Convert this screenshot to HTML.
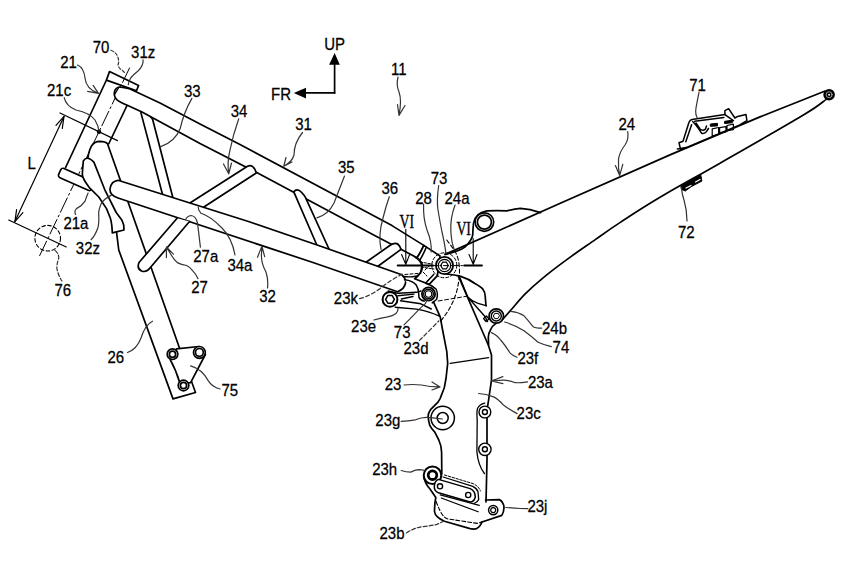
<!DOCTYPE html>
<html><head><meta charset="utf-8">
<style>
html,body{margin:0;padding:0;background:#fff;}
svg{display:block;}
text{font-family:"Liberation Sans",sans-serif;font-size:15px;fill:#000;stroke:#000;stroke-width:0.25px;}
</style></head>
<body>
<svg width="852" height="568" viewBox="0 0 852 568">
<g fill="none" stroke="#000" stroke-width="1.7" stroke-linejoin="round" stroke-linecap="round">
<!-- ===== HEAD PIPE ===== -->
<line x1="106" y1="81" x2="65.6" y2="167.5"/>
<line x1="133" y1="93" x2="108.75" y2="143.75"/>
<path fill="#fff" d="M109.5,71.6 L138.6,85.4 L136.5,90.7 L106.4,80.1 Z"/>
<!-- center dash-dot line -->
<path d="M129.5,68 L38.75,257.5" stroke-width="1" stroke-dasharray="16,3,2,3"/>
<!-- dimension L -->
<line x1="60" y1="113" x2="117.5" y2="140.6" stroke-width="1.2"/>
<line x1="8.75" y1="220" x2="66.25" y2="247" stroke-width="1.2"/>
<line x1="64" y1="116.4" x2="14.9" y2="221.6" stroke-width="1.2"/>
<path d="M56.0,125.3 L64.0,116.4 L62.3,128.3 M22.9,212.7 L14.9,221.6 L16.6,209.7" stroke-width="1.2"/>
<circle cx="99" cy="131.75" r="2.2" fill="#000" stroke="none"/>
<circle cx="47.7" cy="238.2" r="12.8" stroke-width="1.1" stroke-dasharray="3.5,2.5"/>
<!-- ===== DOWN TUBE 26 ===== -->
<path fill="#fff" d="M118.75,250 L116,228 L110,213 L97,190 L87,165 Q88,152 91.5,146 Q94.5,141.3 99.7,141.3 Q105.5,141.5 107.5,143.7 L179.3,347.5 L195.5,392.5 L173,398.9 Z"/>
<!-- lower cap of head pipe -->
<rect transform="translate(61.7,167.5) rotate(24)" x="0" y="0" width="36" height="10" rx="2.5" fill="#fff"/>
<!-- bone tube 32z -->
<path fill="#fff" d="M83.3,161 Q87,155 93.9,162.1 L104.6,189.3 L116.2,212.5 L122,220.3 Q124.5,225 124,230 L112.3,232.9 Q112,224 110.4,218.3 L106.5,208.6 L98.8,197 L89.1,187.3 Q82,178 82.3,173.8 Z"/>
<!-- bracket 75 -->
<path fill="#fff" d="M176.5,348.9 L199,346.5 L205.4,354.5 L190.6,382.7 L180,383.4 Q176,370 170.1,359.4 Z" />
<circle cx="172.5" cy="354.2" r="5.3" fill="#fff"/><circle cx="172.5" cy="354.2" r="3.1"/>
<circle cx="199.4" cy="352.4" r="5.9" fill="#fff"/><circle cx="199.4" cy="352.4" r="3.9"/>
<circle cx="183.5" cy="385.5" r="5.3" fill="#fff"/><circle cx="183.5" cy="385.5" r="3.1"/>
<!-- ===== STRUT 33 (behind top tube) ===== -->
<path fill="#fff" d="M164,200 L140.9,112.6 Q146,109.5 152.6,119.3 L174,202"/>
<!-- ===== TOP TUBE 31 ===== -->
<path fill="#fff" d="M119,87 Q124,87.5 130.1,88.9 L160,103 L200,124.1 L240,144.5 L392,225.6 L423.8,245.4 Q421,252 417,257.7 L373.7,235 L256.7,172.6 L200,143.5 L142,112 L132.2,107.5 Q124,104 121.7,102.8 Q116,100 115,97 Q113.5,93.5 115.3,89.6 Q117,87.5 119,87 Z"/>
<path fill="#fff" d="M423.8,245.4 L440,256 L437.4,275.6 L429.4,284.2 L425.7,283 L414.6,278.7 Q419.5,275.6 422,269.4 Q422.5,265 422,263.3 Q420,259.5 417,257.7 Q421,252 423.8,245.4 Z"/>
<path d="M426.3,247.3 Q423.5,254 420.1,259.6" stroke-width="1.6"/>
<path d="M420,262 L432,264 M421,267 L434,269 M423,272 L427,276 M425,270 L429,266 M427,281 L432,276" stroke-width="1" stroke-dasharray="2.5,1.5"/>
<path d="M114.3,94.9 L118.5,88" stroke-width="1.3"/>
<!-- strut 34 -->
<path fill="#fff" d="M186,205.5 L247.5,166.25 Q253.5,163.5 256.25,173 L200,209.5"/>
<!-- strut 35 -->
<path fill="#fff" d="M319,250 L293.8,191.8 Q298,186 305.2,196.9 L331.5,254.5"/>
<!-- strut 36 -->
<path fill="#fff" d="M362.5,264.7 L390.2,245.2 Q398,240 401,249.4 L374.5,268.8"/>
<!-- ===== TUBE 32 ===== -->
<path fill="#fff" d="M118,180.3 L250,222 L320,246 L401.8,274.8 Q406.5,279 405.5,283 Q404.5,289 397.6,291.7 L313,262.5 L118,198 Q109.5,195 110,189 Q111,181 118,180.3 Z"/>
<!-- tube 27 -->
<path fill="#fff" d="M177.1,218.2 L139,262.5 Q136.5,268.5 141.5,271 Q146.5,273 150.8,267 L189.5,221.5"/>
<!-- ===== REAR FRAME 24 ===== -->
<path d="M445.1,254.4 L562,202.5 L670,154.9 L760,116.9 L824.5,91.2"/>
<path d="M825.9,99.6 C822.1,102.2 821.0,104.4 803.4,115.0 C785.8,125.6 743.9,149.5 720.0,163.2 C696.1,176.9 676.7,187.4 660.0,197.3 C643.3,207.2 630.6,215.6 619.9,222.6 C609.2,229.6 604.0,233.5 595.6,239.4 C587.2,245.3 578.0,251.4 569.2,257.9 C560.4,264.3 550.1,272.1 542.8,278.1 C535.5,284.1 530.5,288.6 525.2,293.9 C519.9,299.2 514.9,305.5 511.1,309.8 C507.3,314.1 504.0,317.9 502.6,319.5"/>
<path d="M496.3,323.1 Q492,326 490.7,329.5 Q488.5,333 488.3,337.4 L488.6,345"/>
<circle cx="829.1" cy="94.7" r="5.8" fill="#000" stroke="none"/><circle cx="829.1" cy="94.7" r="3" fill="none" stroke="#fff" stroke-width="0.6"/><circle cx="829.1" cy="94.7" r="1" fill="#fff" stroke="none"/>
<!-- plate with hole -->
<path d="M445.1,254.4 Q460,251 465.2,246.9 Q472,240 472.7,235.2 Q473,228 473.5,223.4 Q475,213 486.9,210.9 Q497,210.5 507,210.9 Q515,209 520.3,208.4 Q530,209 540.4,212.6"/>
<circle cx="484.4" cy="222.1" r="9.3"/><circle cx="484.4" cy="222.1" r="7"/>
<!-- 71 clip -->
<g stroke-width="1.5">
<path fill="#fff" d="M679,142.8 L683,141.3 L689,122.2 Q690,119.8 692,119.4 L724.9,114.6 L724.9,110.6 L728.6,108.7 L734.9,118 L737.6,116.4 L746,114.6 L746.9,120.6 L739.7,125 L686,147.8 L680.6,149.5 Z"/>
<path d="M685.8,141.7 L691.6,124.8 M692.7,121.6 Q696,125 698.5,128.5 L701.7,133.3 Q704,134 706.4,131.7 L708.5,128.5 M694.8,121.3 L723.9,117.4 M724.9,114.6 L733.4,120.6 M677.4,149.1 L686.4,147.5 M696,123 L700,129 Q703,131.5 705.5,129 L706.5,126"/>
<path d="M712.2,128.8 L718.6,127.5 L718.6,134.5 L712.2,135.9 Z M719.6,127.7 L726,126.6 L726,131.8 L719.6,132.7 Z M727,125.5 L733.4,124.2 L733.4,129.6 L727,130.6 Z" stroke-width="1.2"/>
<path d="M710.7,124 L717.5,123.3 L717.5,125.9 L710.7,126.3 Z M724.9,121.3 L732.3,120.2 L732.3,122.7 L724.9,123.5 Z" fill="#000" stroke-width="1"/>
</g>
<!-- 72 clip -->
<path fill="#000" stroke-width="1" d="M681.1,186.1 L700.8,175.1 L701.9,181.1 L695.2,184.6 L691,186.8 L685.4,191 L681.8,189.6 Z"/>
<path d="M686,188 L691,185.5 M695.5,182 L700,179.5" stroke="#fff" stroke-width="1.2"/>
<!-- ===== CENTER CLUSTER ===== -->
<!-- blobs -->
<path fill="#fff" d="M415.1,257.5 Q421.4,261 421.5,266 Q421.5,274 416.7,276 Q410,277.5 404,276.5" stroke-width="1.4"/>
<path fill="#fff" d="M404.5,279.7 Q413,280.5 416.4,285.3 Q418.5,289 418.5,292 L419,297.6 Q420.5,300.5 424.3,301.1" stroke-width="1.5"/>
<!-- link piece between bolts -->
<path d="M433.7,274.4 L425.7,283" stroke-width="1.5"/>
<!-- bracket 23 right/wing -->
<path d="M446.3,274 Q455,275 460.6,276.4 Q469,279 474.9,283.5 Q481,287 482.8,289.1 Q485,292 485.2,296.2 L486,305.7"/>
<path d="M459,275.6 L467.7,297 Q472,301.5 478,303.3 L486,305.7 M467.7,297 L485.2,316.8 L487.5,321.6" stroke-width="1.4"/>
<path d="M483.5,318.5 L486.5,316 L489,319 L486,321.5 Z" stroke-width="1.2"/>
<path d="M458.2,275.6 L488.3,345 L491.5,355 L491.5,380 L488.6,400 L487,410 L487,460 L486,502"/>
<!-- link 23e/23k -->
<path d="M388.2,291 Q393,292.5 397.9,293.2 L416.4,292.3 L421,291 M397.9,295.8 L414,294.1 M401.4,299 L413,296.5 M400.5,300.7 L420.8,303.8 L431.3,309 M395.2,307.3 L416.4,309.1 Q430,311.5 439.3,316.1" stroke-width="1.4"/>
<!-- bracket 23 left edge -->
<path d="M433.5,301.8 L440.2,316.9 L442.6,330 L446.8,351.7 L447.7,363.4 L446,378.5 L444.3,387.7 L440.1,398.6 L438,402.1 L430.8,409.3 Q428.1,413 428.1,416.4 Q428.5,421 429.7,425.1 Q431.5,429 434.8,432.2 L438.8,440 Q441.6,446 441.6,452.3 L441.8,474"/>
<line x1="450.2" y1="363.4" x2="488.6" y2="357.6" stroke-width="1.3"/>
<!-- 23g boss -->
<circle cx="442.7" cy="418" r="11.7" stroke-width="1.5"/>
<circle cx="442.7" cy="418" r="5.5" stroke-width="1.5"/>
<!-- small holes 23c -->
<path d="M484.8,403.2 Q479.5,404.5 477.5,408.5 Q476.5,412 477.2,420 L476.9,451.8 Q478,465 484.4,473.5" stroke-width="1.3"/>
<circle cx="484.9" cy="412" r="5.9" fill="#fff" stroke-width="1.4"/><circle cx="484.9" cy="412" r="2.5" stroke-width="1.4"/>
<circle cx="484.9" cy="449.3" r="6.2" fill="#fff" stroke-width="1.4"/><circle cx="484.9" cy="449.3" r="2.5" stroke-width="1.4"/>
<!-- bottom outline -->
<path d="M424,478 Q426,485 430,489 L435.8,497.5 Q434.5,503 434.5,511.5 Q435,515 437.2,516.7 Q440,519.5 444.4,521.3 L470.1,528.6 Q474,529.5 476.7,528.6 Q479.5,527 480.7,524.6 L482,522 L501.8,515.4 Q504.5,511 503.8,505.5 Q502,500.5 499.2,499.6 L485.5,500"/>
<!-- 23h boss -->
<circle cx="432.5" cy="475.2" r="8.8" fill="#fff" stroke-width="2"/>
<circle cx="432.5" cy="475.2" r="4.3" stroke-width="2.8"/>
<!-- 23j hole -->
<circle cx="493.2" cy="510.1" r="4.6" stroke-width="1.5"/><circle cx="493.2" cy="510.1" r="2.5" stroke-width="1.2"/>
<!-- plate with two holes -->
<path fill="#fff" d="M438.5,479.4 L470.2,488.6 Q475.3,491 475.3,497 Q474,502 470.2,502 L438.5,492.8 Q434,491 434.3,486.1 Q435,480 438.5,479.4 Z" stroke-width="1.5"/>
<circle cx="440" cy="486.3" r="2.6" stroke-width="1.4"/><circle cx="468.2" cy="495" r="2.6" stroke-width="1.4"/>
<path d="M443.1,477 L472.8,486.3 Q477,488.5 478,491.7 L478.7,499.6 Q477.5,502.5 474.1,503.5" stroke-width="1.3"/>
<path d="M444.5,475 L473,483.6 Q478.5,486 480.5,491" stroke-width="1" stroke-dasharray="2.5,1.5"/>
<path d="M440.2,494.9 L479.3,505.4 M441.3,498 L478.2,511.8" stroke-width="1.2"/>
<path d="M436,501.2 Q440,512 443.4,516 Q446,519 449.7,519.2 L477.2,523.4 L483.5,521.3" stroke-width="1.1" stroke-dasharray="4,2"/>
<!-- 23k, 23e holes -->
<circle cx="390" cy="299.4" r="7.4" fill="#fff" stroke-width="2"/><path d="M394.4,299.4 L392.2,303.2 L387.8,303.2 L385.6,299.4 L387.8,295.6 L392.2,295.6 Z" stroke-width="1.5"/>
<!-- bolts 73 -->
<circle cx="444.3" cy="265.3" r="12.5" stroke-width="1" stroke-dasharray="3,2"/>
<circle cx="444.5" cy="265.5" r="8.6" fill="#fff" stroke-width="1.8"/>
<circle cx="444.5" cy="265.5" r="6.2" stroke-width="1.2"/>
<path d="M448.3,265.5 L446.4,268.8 L442.6,268.8 L440.7,265.5 L442.6,262.2 L446.4,262.2 Z" stroke-width="1.2"/>
<path d="M426,283.5 Q432,285 436,289 Q438.5,294 436.5,299.5 L432.2,302.9" stroke-width="1.5"/>
<circle cx="428.5" cy="294" r="6.6" fill="#fff" stroke-width="1.8"/>
<circle cx="428.5" cy="294" r="4.8" stroke-width="1.4"/>
<circle cx="428.5" cy="294" r="3.2" stroke-width="1.1"/>
<!-- bolt 24b -->
<circle cx="496.3" cy="316" r="7.2" fill="#fff" stroke-width="1.8"/>
<circle cx="496.3" cy="316" r="5" stroke-width="1.4"/>
<path d="M499.3,316 L497.8,318.6 L494.8,318.6 L493.3,316 L494.8,313.4 L497.8,313.4 Z" stroke-width="1"/>
<!-- big dashed arc -->
<path d="M446.8,240.0 C448.4,242.5 454.6,249.6 456.7,254.8 C458.8,260.0 459.4,265.5 459.5,271.0 C459.6,276.5 458.6,282.8 457.5,288.0 C456.4,293.2 454.6,298.0 452.7,302.3 C450.8,306.6 448.2,310.7 446.0,314.0 C443.8,317.3 440.8,320.8 439.7,322.1" stroke-width="1.1" stroke-dasharray="4,2.5"/>
<path d="M438.2,301 L464,296.7 L468,296" stroke-width="1" stroke-dasharray="4,2.5"/>
<path d="M405,274.5 L421,273.2" stroke-width="1" stroke-dasharray="3,2"/>
<!-- section VI -->
<line x1="397.7" y1="265.6" x2="433" y2="265.6" stroke-width="2"/>
<line x1="433" y1="265.6" x2="464" y2="265.6" stroke-width="1" stroke-dasharray="5,2,1.5,2"/>
<line x1="464.2" y1="265.6" x2="481.9" y2="265.6" stroke-width="2"/>
<g stroke-width="1.1">
<path d="M405.8,229.3 L405.8,264.4 M401.6,254.5 L405.8,264.4 L409.6,254.5"/>
<path d="M473.2,238.5 L473.2,264.4 M469,254.5 L473.2,264.4 L477,254.5"/>
</g>
<!-- direction arrows -->
<line x1="334.6" y1="62" x2="334.6" y2="92.9"/>
<line x1="305" y1="92.9" x2="334.6" y2="92.9"/>
</g>
<g fill="#000" stroke="none">
<path d="M334.6,52.9 L329.1,64.7 L339.8,64.7Z"/>
<path d="M293.8,92.9 L306,87.8 L306,98.5Z"/>
</g>
<!-- ===== LEADERS ===== -->
<g fill="none" stroke="#333" stroke-width="1.2" stroke-linecap="round" stroke-linejoin="round">
<path d="M110.9,50.3 Q115.5,52 117.5,56 Q119.5,61 118,65 Q119,68.5 122,70 L125.2,73.1" stroke-dasharray="3,2"/>
<path d="M143.1,59.8 Q143.5,66 138,71 Q132,76 130.5,78.3 Q128.5,81 128.3,84.7"/>
<path d="M77.6,65 Q84,68 85,78 Q86,89 98.5,93.4 M93.1,85.4 L98.5,93.4 L87.6,91.4"/>
<path d="M64.2,97.6 Q66,106 76,110 Q90,113 95,120 Q98.5,126 99,131.1"/>
<path d="M191.9,98.4 Q184,112 180.2,128.5 Q175,142 160.2,146.9"/>
<path d="M238.75,118.75 Q233,135 230,150 Q227,162 228.75,173.75 M223.5,164 L228.75,173.75 L231.5,163"/>
<path d="M302.5,132.5 Q294,143 294,155 Q292,162 283.75,166.25 M286,157.5 L283.75,166.25 L292,162"/>
<path d="M344.5,176 Q339,190 334,203 Q328,215 316.9,217.8"/>
<path d="M389.3,196.7 Q386,206 383,218 Q378,235 381,249.4"/>
<path d="M423.6,204.2 Q423,218 427,230 Q432,242 431.1,251.9"/>
<path d="M438.7,185.5 Q436.5,200 438,210 Q440,222 442,232 Q445,245 445.9,253.5"/>
<path d="M455.1,205 Q450,218 450.9,231.8 Q451.5,243 454.3,249.4"/>
<path d="M398,77 Q396,85 399,92 Q402,100 399,115.4 M397.5,104.5 L399,115.4 L405,105.5"/>
<path d="M627.7,131.6 Q629,139 625,145 Q619.5,152 618.5,159.3 Q618,168 619.7,175.4 M615.4,165.5 L619.7,175.4 L622.8,164.3"/>
<path d="M699,92.3 Q697,102 696,108 Q695,114 697.3,118"/>
<path d="M687,221 Q687,210 684,200 Q682,194 681.8,190.1"/>
<path d="M200.4,247.1 Q199,235 197.5,223.2 Q196,216 191,215.5 Q187,216 185.6,219.6"/>
<path d="M235,255 Q232,238 222,228 Q210,216 201,213.3 Q198,210 198.2,207"/>
<path d="M267.5,287.9 Q268.5,280 266,272 Q261.5,264 261.4,256 L261.9,246.1 M257.5,257.3 L261.9,246.1 L264.7,256.7"/>
<path d="M198,278.7 Q196,274 192.8,270.8 Q190,267 186.6,265.5 Q181,264.5 177.8,262.9 Q174,260 171.7,255.8 L166.4,247 M166.4,257.6 L166.4,247 L173.4,254.1"/>
<path d="M127.5,352.5 Q137,349 141,338 Q145,325 152.5,321.25"/>
<path d="M220.1,389 Q212,387 208.2,380.6 Q202,369 190.6,365.8"/>
<path d="M88.1,193.1 Q86,198 85.2,200.9 Q82,206 76.5,208.6 Q74,211 75.5,214.5"/>
<path d="M111.4,195.1 Q104,199 101.7,202.8 Q98,210 98.8,216.4 Q99,224 97.8,228 Q95,236 91,239.7"/>
<path d="M54.9,250.1 Q59,254 58.8,258 Q56,266 57.2,270 Q59,277 62,281" stroke-dasharray="4,2"/>
<path d="M359.6,298.7 Q370,296 380.2,288.4 Q392,279 402.4,274.1" stroke-dasharray="4,2.5"/>
<path d="M373.9,320 Q380,318 386.5,317.1 Q393,316 396.2,313.3 Q398,311 398.1,308.4"/>
<path d="M404,324.9 Q409,320 413.6,315.2 Q420,308 425.3,303.6 Q427,301 427.2,297.8"/>
<path d="M419.5,340.4 Q425,335 431.1,328.8 L438.8,321" stroke-dasharray="4,2.5"/>
<path d="M404,385 Q412,384 421.4,385 Q430,387 440,386.9 M432,382 L440,386.9 L432,390"/>
<path d="M401.2,421.4 Q408,421 415.5,419.8 Q422,417 428.1,417.4 Q435,418 442.4,419"/>
<path d="M401.2,470.5 Q406,472 410.7,472.1 Q415,470 418.6,469.7 Q422,470 425,470.5"/>
<path d="M406.4,532.9 Q414,528 422.3,526.6 Q430,526 437,524.4 L443.4,521.3" stroke-dasharray="4,2"/>
<path d="M505.7,507.5 Q515,508 520,508.5 L527.9,508.6"/>
<path d="M517.1,413.6 Q510,410 503.7,405.3 Q498,399 493.6,396.9 Q486,394 478.6,393.5"/>
<path d="M527.5,381.9 Q520,383 515.2,382.7 Q508,380 502.9,380.1 L491.4,381 M502.9,376.6 L491.4,381 L502.9,383.6"/>
<path d="M517,357.2 Q512,355 509.9,352.8 Q505,345 501.1,340.5 Q497,335 491.4,332.6"/>
<path d="M551.3,346.7 Q544,345 538.1,342.3 Q531,336 524,330.8 Q515,325 504.6,322"/>
<path d="M541.6,328.2 Q535,328 532.8,326.4 Q528,320 524,315.8 Q518,312 510.8,311.4"/>
</g>

<g>
<text transform="translate(324.30,49.90) scale(1,1.1)" style="font-family:'Liberation Sans'">UP</text>
<text transform="translate(271.10,100.00) scale(1,1.1)" style="font-family:'Liberation Sans'">FR</text>
<text transform="translate(391.00,74.60) scale(1,1.1)" style="font-family:'Liberation Sans'">11</text>
<text transform="translate(295.20,130.10) scale(1,1.1)" style="font-family:'Liberation Sans'">31</text>
<text transform="translate(92.75,53.20) scale(1,1.1)" style="font-family:'Liberation Sans'">70</text>
<text transform="translate(131.10,58.40) scale(1,1.1)" style="font-family:'Liberation Sans'">31z</text>
<text transform="translate(60.25,68.40) scale(1,1.1)" style="font-family:'Liberation Sans'">21</text>
<text transform="translate(47.00,95.55) scale(1,1.1)" style="font-family:'Liberation Sans'">21c</text>
<text transform="translate(183.90,96.50) scale(1,1.1)" style="font-family:'Liberation Sans'">33</text>
<text transform="translate(230.70,116.90) scale(1,1.1)" style="font-family:'Liberation Sans'">34</text>
<text transform="translate(337.90,172.80) scale(1,1.1)" style="font-family:'Liberation Sans'">35</text>
<text transform="translate(381.50,194.40) scale(1,1.1)" style="font-family:'Liberation Sans'">36</text>
<text transform="translate(415.25,203.80) scale(1,1.1)" style="font-family:'Liberation Sans'">28</text>
<text transform="translate(430.75,184.30) scale(1,1.1)" style="font-family:'Liberation Sans'">73</text>
<text transform="translate(444.50,204.30) scale(1,1.1)" style="font-family:'Liberation Sans'">24a</text>
<text transform="translate(399.60,228.00) scale(0.92,1.2)" style="font-family:'Liberation Serif'">VI</text>
<text transform="translate(456.40,235.00) scale(0.92,1.2)" style="font-family:'Liberation Serif'">VI</text>
<text transform="translate(27.50,169.30) scale(1,1.1)" style="font-family:'Liberation Sans'">L</text>
<text transform="translate(63.40,229.20) scale(1,1.1)" style="font-family:'Liberation Sans'">21a</text>
<text transform="translate(75.80,254.00) scale(1,1.1)" style="font-family:'Liberation Sans'">32z</text>
<text transform="translate(54.40,296.00) scale(1,1.1)" style="font-family:'Liberation Sans'">76</text>
<text transform="translate(193.25,262.00) scale(1,1.1)" style="font-family:'Liberation Sans'">27a</text>
<text transform="translate(227.40,270.70) scale(1,1.1)" style="font-family:'Liberation Sans'">34a</text>
<text transform="translate(191.20,293.00) scale(1,1.1)" style="font-family:'Liberation Sans'">27</text>
<text transform="translate(259.20,301.90) scale(1,1.1)" style="font-family:'Liberation Sans'">32</text>
<text transform="translate(107.50,362.70) scale(1,1.1)" style="font-family:'Liberation Sans'">26</text>
<text transform="translate(221.40,395.60) scale(1,1.1)" style="font-family:'Liberation Sans'">75</text>
<text transform="translate(333.80,304.20) scale(1,1.1)" style="font-family:'Liberation Sans'">23k</text>
<text transform="translate(351.10,331.80) scale(1,1.1)" style="font-family:'Liberation Sans'">23e</text>
<text transform="translate(393.80,337.70) scale(1,1.1)" style="font-family:'Liberation Sans'">73</text>
<text transform="translate(403.50,354.10) scale(1,1.1)" style="font-family:'Liberation Sans'">23d</text>
<text transform="translate(384.70,390.10) scale(1,1.1)" style="font-family:'Liberation Sans'">23</text>
<text transform="translate(375.30,426.10) scale(1,1.1)" style="font-family:'Liberation Sans'">23g</text>
<text transform="translate(372.20,475.20) scale(1,1.1)" style="font-family:'Liberation Sans'">23h</text>
<text transform="translate(379.50,539.40) scale(1,1.1)" style="font-family:'Liberation Sans'">23b</text>
<text transform="translate(527.40,511.90) scale(1,1.1)" style="font-family:'Liberation Sans'">23j</text>
<text transform="translate(516.60,418.70) scale(1,1.1)" style="font-family:'Liberation Sans'">23c</text>
<text transform="translate(527.90,387.50) scale(1,1.1)" style="font-family:'Liberation Sans'">23a</text>
<text transform="translate(517.40,363.70) scale(1,1.1)" style="font-family:'Liberation Sans'">23f</text>
<text transform="translate(552.60,353.20) scale(1,1.1)" style="font-family:'Liberation Sans'">74</text>
<text transform="translate(542.00,333.80) scale(1,1.1)" style="font-family:'Liberation Sans'">24b</text>
<text transform="translate(618.50,129.80) scale(1,1.1)" style="font-family:'Liberation Sans'">24</text>
<text transform="translate(689.20,91.40) scale(1,1.1)" style="font-family:'Liberation Sans'">71</text>
<text transform="translate(677.90,237.90) scale(1,1.1)" style="font-family:'Liberation Sans'">72</text>
</g>
</svg>
</body></html>
